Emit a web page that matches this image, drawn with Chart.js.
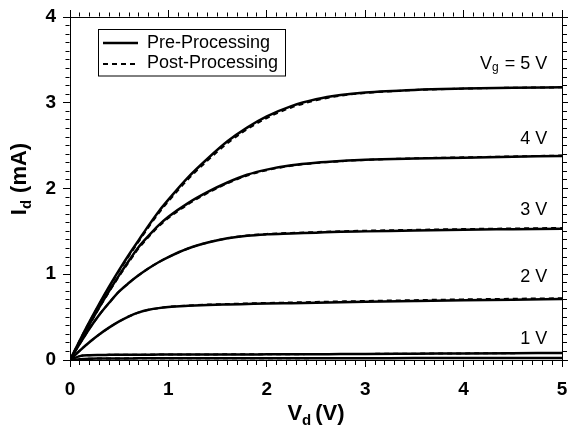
<!DOCTYPE html>
<html>
<head>
<meta charset="utf-8">
<title>Id-Vd</title>
<script src="https://cdn.jsdelivr.net/npm/chart.js@4.4.1/dist/chart.umd.min.js"></script>
<style>
  html, body { margin: 0; padding: 0; background: #fff; }
  #wrap { width: 568px; height: 427px; }
</style>
</head>
<body>
<div id="wrap"><canvas id="ivChart" width="568" height="427"></canvas></div>
<script>
// drain voltage samples (V)
const drainVoltage = [0, 0.1, 0.2, 0.3, 0.4, 0.5, 0.6, 0.7, 0.8, 0.9, 1.0, 1.2, 1.4, 1.6, 1.8, 2.0, 2.25, 2.5, 2.75, 3.0, 3.5, 4.0, 4.5, 5.0];

// drain current (mA), pre-processing
const preVg0 = [0, 0.01, 0.015, 0.017, 0.018, 0.018, 0.018, 0.019, 0.019, 0.019, 0.019, 0.019, 0.02, 0.02, 0.02, 0.02, 0.02, 0.021, 0.021, 0.021, 0.022, 0.022, 0.023, 0.023];
const preVg1 = [0, 0.045, 0.056, 0.059, 0.06, 0.061, 0.061, 0.062, 0.062, 0.063, 0.063, 0.064, 0.064, 0.065, 0.065, 0.066, 0.067, 0.068, 0.069, 0.07, 0.073, 0.076, 0.079, 0.082];
const preVg2 = [0, 0.11, 0.21, 0.3, 0.38, 0.45, 0.51, 0.555, 0.585, 0.605, 0.618, 0.632, 0.642, 0.648, 0.653, 0.658, 0.663, 0.668, 0.673, 0.678, 0.688, 0.697, 0.704, 0.71];
const preVg3 = [0, 0.19, 0.37, 0.53, 0.67, 0.8, 0.9, 0.99, 1.07, 1.14, 1.2, 1.3, 1.37, 1.42, 1.45, 1.465, 1.475, 1.485, 1.495, 1.5, 1.51, 1.52, 1.525, 1.53];
const preVg4 = [0, 0.21, 0.42, 0.62, 0.81, 0.99, 1.16, 1.32, 1.45, 1.57, 1.67, 1.83, 1.96, 2.07, 2.16, 2.22, 2.27, 2.3, 2.32, 2.335, 2.35, 2.36, 2.37, 2.38];
const preVg5 = [0, 0.23, 0.45, 0.66, 0.86, 1.05, 1.23, 1.4, 1.57, 1.73, 1.87, 2.13, 2.35, 2.55, 2.71, 2.84, 2.96, 3.04, 3.09, 3.12, 3.15, 3.165, 3.175, 3.18];

// drain current (mA), post-processing
const postVg0 = [0, 0.01, 0.015, 0.017, 0.018, 0.018, 0.019, 0.019, 0.019, 0.019, 0.02, 0.02, 0.02, 0.02, 0.021, 0.021, 0.021, 0.022, 0.022, 0.022, 0.023, 0.023, 0.024, 0.024];
const postVg1 = [0, 0.045, 0.056, 0.059, 0.06, 0.061, 0.062, 0.062, 0.063, 0.063, 0.064, 0.064, 0.065, 0.066, 0.066, 0.067, 0.068, 0.069, 0.07, 0.071, 0.074, 0.077, 0.08, 0.083];
const postVg2 = [0, 0.11, 0.21, 0.3, 0.38, 0.45, 0.51, 0.555, 0.585, 0.605, 0.62, 0.636, 0.646, 0.653, 0.659, 0.665, 0.671, 0.677, 0.683, 0.688, 0.698, 0.707, 0.714, 0.72];
const postVg3 = [0, 0.19, 0.37, 0.53, 0.67, 0.8, 0.9, 0.99, 1.07, 1.14, 1.2, 1.3, 1.37, 1.42, 1.452, 1.47, 1.482, 1.492, 1.501, 1.508, 1.518, 1.527, 1.534, 1.54];
const postVg4 = [0, 0.21, 0.415, 0.613, 0.8, 0.978, 1.146, 1.305, 1.437, 1.556, 1.656, 1.816, 1.948, 2.06, 2.152, 2.213, 2.265, 2.297, 2.318, 2.333, 2.352, 2.363, 2.374, 2.385];
const postVg5 = [0, 0.23, 0.45, 0.655, 0.852, 1.04, 1.216, 1.385, 1.552, 1.71, 1.85, 2.108, 2.328, 2.528, 2.69, 2.822, 2.945, 3.028, 3.082, 3.114, 3.148, 3.165, 3.175, 3.18];

// gate voltage labels and where they sit (mA, at Vd = 4.85 V)
const gateText = ["1 V", "2 V", "3 V", "4 V", "5 V"];
const gateLabelY = [0.24, 0.965, 1.745, 2.575, 3.45];
const xTicks = [0, 1, 2, 3, 4, 5];
const yTicks = [0, 1, 2, 3, 4];

const FONT = "Arial, 'Liberation Sans', sans-serif";
const isMajor = (v) => Math.abs(v - Math.round(v)) < 1e-6;

const toPoints = (ys) => drainVoltage.map((x, i) => ({ x: x, y: ys[i] }));

const preSeries = [preVg0, preVg1, preVg2, preVg3, preVg4, preVg5];
const postSeries = [postVg0, postVg1, postVg2, postVg3, postVg4, postVg5];

const datasets = [];
preSeries.forEach((ys, i) => {
  datasets.push({
    label: "Pre-Processing " + i,
    data: toPoints(ys),
    borderColor: "#000",
    borderWidth: 2.5,
    pointRadius: 0,
    cubicInterpolationMode: "monotone",
    order: 1,
  });
});
postSeries.forEach((ys, i) => {
  datasets.push({
    label: "Post-Processing " + i,
    data: toPoints(ys),
    borderColor: "#000",
    borderWidth: 2,
    borderDash: [5, 4],
    pointRadius: 0,
    cubicInterpolationMode: "monotone",
    order: 0,
  });
});

// minor ticks only draw the inner part of the tick line
const tickDash = (pos) => (ctx) => {
  if (!ctx.tick || isMajor(ctx.tick.value)) return [];
  return pos === "left" || pos === "top" ? [0, 2.5, 4, 100] : [4, 100];
};

const makeAxis = (pos, axis, max, showLabels, size) => ({
  type: "linear",
  axis: axis,
  position: pos,
  min: 0,
  max: max,
  afterFit: (scale) => {
    if (axis === "x") scale.height = size;
    else scale.width = size;
    // fixed frame, labels may hang over the edges
    scale.paddingLeft = 0;
    scale.paddingRight = 0;
    scale.paddingTop = 0;
    scale.paddingBottom = 0;
  },
  border: { display: true, color: "#000", width: 1 },
  grid: {
    drawOnChartArea: false,
    drawTicks: true,
    tickLength: 7,
    tickColor: "#000",
    tickWidth: 1,
    tickBorderDash: tickDash(pos),
  },
  ticks: {
    display: showLabels,
    stepSize: 0.1,
    autoSkip: false,
    maxRotation: 0,
    padding: axis === "x" ? 11 : 7,
    color: "#000",
    font: { family: FONT, size: 19, weight: "bold" },
    callback: (v) => {
      const r = Math.round(v);
      return isMajor(v) && (axis === "x" ? xTicks : yTicks).includes(r) ? String(r) : "";
    },
  },
});

// draw a run of text pieces (for subscripts)
function richText(ctx, parts, x, y, align) {
  let total = 0;
  parts.forEach((p) => {
    ctx.font = (p.bold ? "bold " : "") + p.size + "px " + FONT;
    p.w = p.text ? ctx.measureText(p.text).width : 0;
    total += p.w + (p.gap || 0);
  });
  let cx = align === "right" ? x - total : align === "center" ? x - total / 2 : x;
  parts.forEach((p) => {
    cx += p.gap || 0;
    ctx.font = (p.bold ? "bold " : "") + p.size + "px " + FONT;
    if (p.text) ctx.fillText(p.text, cx, y + (p.dy || 0));
    cx += p.w;
  });
}

const decorations = {
  id: "decorations",
  afterDraw(chart) {
    const ctx = chart.ctx;
    const area = chart.chartArea;
    const xs = chart.scales.x;
    const ys = chart.scales.y;
    ctx.save();
    ctx.fillStyle = "#000";
    ctx.strokeStyle = "#000";
    ctx.textBaseline = "alphabetic";

    // x axis title
    richText(ctx, [
      { text: "V", size: 22, bold: true },
      { text: "d", size: 15, bold: true, dy: 5 },
      { text: "(V)", size: 22, bold: true, gap: 4 },
    ], (area.left + area.right) / 2, 420, "center");

    // y axis title
    ctx.save();
    ctx.translate(26, 179);
    ctx.rotate(-Math.PI / 2);
    richText(ctx, [
      { text: "I", size: 22, bold: true },
      { text: "d", size: 15, bold: true, dy: 5 },
      { text: "(mA)", size: 22, bold: true, gap: 7 },
    ], 0, 0, "center");
    ctx.restore();

    // gate voltage labels
    ctx.textBaseline = "middle";
    const lx = xs.getPixelForValue(4.85);
    gateText.forEach((t, i) => {
      const py = ys.getPixelForValue(gateLabelY[i]);
      if (i === gateText.length - 1) {
        richText(ctx, [
          { text: "V", size: 18 },
          { text: "g", size: 12, dy: 4 },
          { text: "= " + t, size: 18, gap: 6 },
        ], lx, py, "right");
      } else {
        richText(ctx, [{ text: t, size: 18 }], lx, py, "right");
      }
    });

    // legend box
    ctx.lineWidth = 1;
    ctx.strokeRect(98.5, 29.5, 187, 46.5);
    ctx.lineWidth = 2.5;
    ctx.setLineDash([]);
    ctx.beginPath();
    ctx.moveTo(103, 43);
    ctx.lineTo(138, 43);
    ctx.stroke();
    ctx.lineWidth = 2;
    ctx.setLineDash([5, 4]);
    ctx.beginPath();
    ctx.moveTo(103, 64);
    ctx.lineTo(138, 64);
    ctx.stroke();
    ctx.setLineDash([]);
    ctx.textBaseline = "middle";
    ctx.font = "18px " + FONT;
    ctx.fillText("Pre-Processing", 147, 43);
    ctx.fillText("Post-Processing", 147, 63);
    ctx.restore();
  },
};

new Chart(document.getElementById("ivChart"), {
  type: "line",
  data: { datasets: datasets },
  options: {
    responsive: false,
    animation: false,
    events: [],
    layout: { padding: 0 },
    scales: {
      x: makeAxis("bottom", "x", 5, true, 67),
      x2: makeAxis("top", "x", 5, false, 17),
      y: makeAxis("left", "y", 4, true, 70),
      y2: makeAxis("right", "y", 4, false, 6),
    },
    plugins: {
      legend: { display: false },
      tooltip: { enabled: false },
    },
  },
  plugins: [decorations],
});
</script>
</body>
</html>
